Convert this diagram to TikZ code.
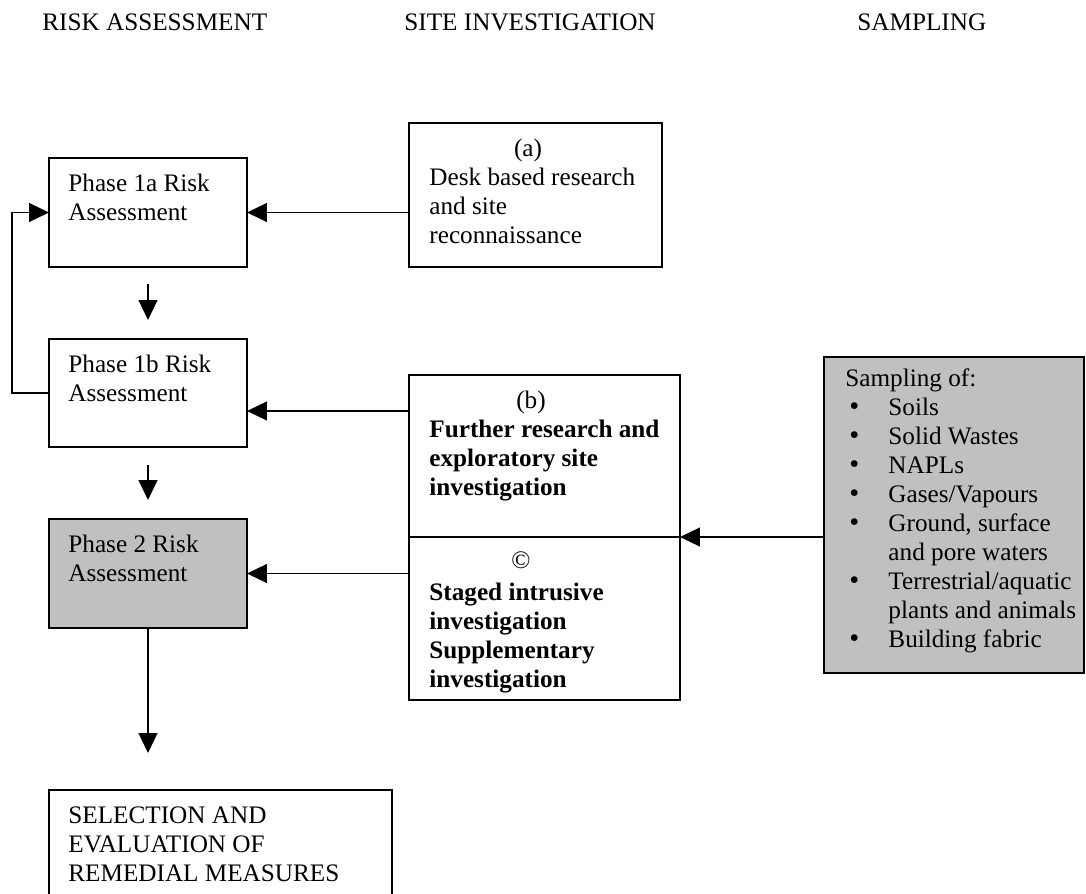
\documentclass[tikz,border=0pt]{standalone}
\usepackage{fontspec}
\setmainfont{Liberation Serif}
\usetikzlibrary{arrows.meta,calc}
\definecolor{boxgray}{RGB}{192,192,192}
\newcommand\sbul{\hspace*{1.9pt}\makebox[18.6pt][l]{\smash{\fontsize{13.5}{13.5}\selectfont\textbullet}}}
\newcommand\sind{\hspace*{20.5pt}}
\begin{document}
\begin{tikzpicture}[x=0.47619pt,y=-0.47619pt,
  box/.style={draw,line width=0.8pt,rectangle,inner sep=0pt,outer sep=0pt},
  graybox/.style={box,fill=boxgray},
  sz/.style 2 args={minimum width=#1*0.47619pt,minimum height=#2*0.47619pt},
  txt/.style={inner sep=0pt,anchor=north west,align=left,font=\fontsize{12}{13.8}\selectfont},
  lbl/.style={inner sep=0pt,anchor=base,font=\fontsize{12}{13.8}\selectfont},
  hdr/.style={inner sep=0pt,anchor=base west,font=\fontsize{12}{13.8}\selectfont},
  arr/.style={line width=0.65pt,-{Triangle[length=9.5pt,width=9pt]}}]
\useasboundingbox (0,0) rectangle (1086,894);
\clip (0,0) rectangle (1086,894);
\fill[white] (0,0) rectangle (1086,894);

% headers
\node[hdr] (h1) at (42,30) {RISK ASSESSMENT};
\node[hdr] (h2) at (404,30) {SITE INVESTIGATION};
\node[hdr] (h3) at (857,30) {SAMPLING};

% boxes
\node[box,sz={198}{109}] (p1a) at (148,212.5) {};
\node[box,sz={198}{108}] (p1b) at (148,393) {};
\node[graybox,sz={198}{109}] (p2) at (148,573.5) {};
\node[box,sz={343}{130}] (sel) at (220.5,855) {};
\node[box,sz={253}{144}] (a) at (535.5,195) {};
\node[box,sz={271}{162}] (b) at (544.5,456) {};
\node[box,sz={271}{163}] (c) at (544.5,618.5) {};
\node[graybox,sz={260}{316}] (samp) at (954,515) {};

% texts
\node[txt] (t1a) at (68,171.2) {\strut Phase 1a Risk\\Assessment};
\node[txt] (t1b) at (68,351.7) {\strut Phase 1b Risk\\Assessment};
\node[txt] (t2) at (68,531.7) {\strut Phase 2 Risk\\Assessment};
\node[txt] (tsel) at (68,802.7) {\strut SELECTION AND\\EVALUATION OF\\REMEDIAL MEASURES};
\node[lbl] (la) at (528,156) {(a)};
\node[txt] (ta) at (429,164.7) {\strut Desk based research\\and site\\reconnaissance};
\node[lbl] (lb) at (531,408) {(b)};
\node[txt] (tb) at (429,416.7) {\strut\textbf{Further research and}\\\textbf{exploratory site}\\\textbf{investigation}};
\node[lbl] (lc) at (521,568) {©};
\node[txt] (tc) at (429,579.7) {\strut\textbf{Staged intrusive}\\\textbf{investigation}\\\textbf{Supplementary}\\\textbf{investigation}};
\node[txt] (ts) at (845,365.7) {\strut Sampling of:\\
\sbul Soils\\
\sbul Solid Wastes\\
\sbul NAPLs\\
\sbul Gases/Vapours\\
\sbul Ground, surface\\
\sind and pore waters\\
\sbul Terrestrial/aquatic\\
\sind plants and animals\\
\sbul Building fabric};

% connectors
\coordinate (yb) at (0,411);
\coordinate (ysel) at (0,753);
\draw[arr] (a.west |- p1a.east) -- (p1a.east);
\draw[arr] (b.west |- yb) -- (p1b.east |- yb);
\draw[arr] (c.west |- p2.east) -- (p2.east);
\draw[arr] (samp.west |- b.south east) -- (b.south east);
\draw[arr] ($(p1a.south)+(0,17)$) -- ($(p1b.north)+(0,-19)$);
\draw[arr] ($(p1b.south)+(0,18)$) -- ($(p2.north)+(0,-19)$);
\draw[arr] (p2.south) -- (p2.south |- ysel);
\draw[arr] (p1b.west) -- ++(-37,0) |- (p1a.west);
\end{tikzpicture}
\end{document}
